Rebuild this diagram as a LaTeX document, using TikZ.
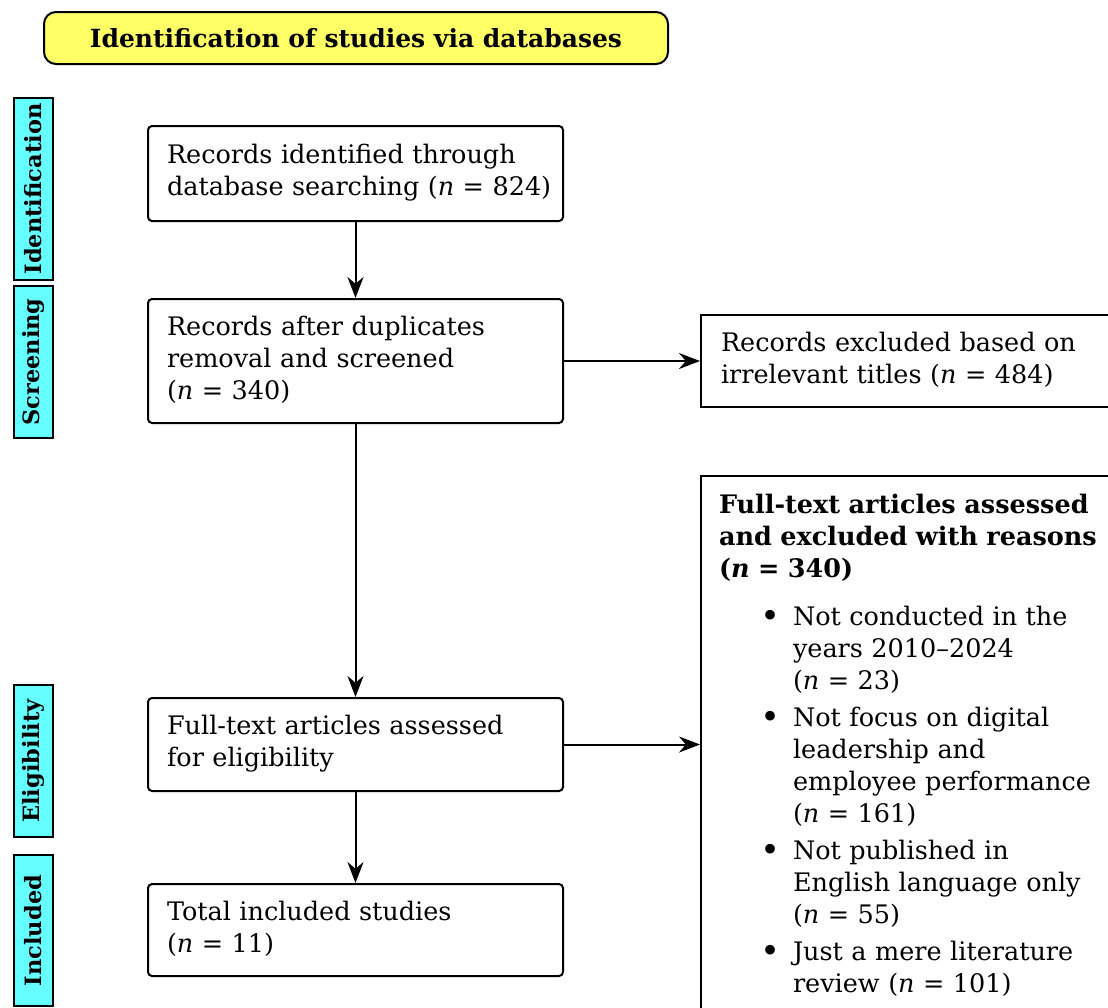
\documentclass[tikz,border=0pt]{standalone}
\usepackage{fontspec}
\setmainfont{DejaVu Serif}
\usetikzlibrary{arrows.meta}
\definecolor{titleyellow}{HTML}{FFFF66}
\definecolor{stagecyan}{HTML}{66FFFF}
\newcommand{\flowlines}[1]{\begin{tabular}{@{}l@{}}#1\end{tabular}}
\newcommand{\reasonbullet}{\raisebox{-0.09em}{\scalebox{1.3}{\textbullet}}}
\tikzset{
  every node/.style={font=\fontsize{25.5}{32}\selectfont},
  flowbox/.style={draw, line width=2pt, rounded corners=4pt, anchor=north west,
    align=left, inner xsep=19pt, inner ysep=0pt, text width=377pt,
    minimum width=415pt, minimum height=95pt},
  sidebox/.style={draw, line width=2pt, anchor=north west},
  stagebox/.style={draw, line width=2pt, fill=stagecyan, minimum width=39pt,
    anchor=north west, inner sep=0pt},
  stagelabel/.style={rotate=90, font=\fontsize{22.5}{26}\selectfont\bfseries},
  flowarrow/.style={line width=2pt, -{Stealth[length=21pt,width=16pt]}},
}
\newenvironment{reasonlist}{\begin{list}{\reasonbullet}{\setlength{\leftmargin}{74pt}\setlength{\labelsep}{13pt}\setlength{\labelwidth}{20pt}\setlength{\itemsep}{5pt}\setlength{\parsep}{0pt}\setlength{\topsep}{16pt}\setlength{\partopsep}{0pt}}}{\end{list}}
\begin{document}
\begin{tikzpicture}[x=1pt,y=-1pt]
\useasboundingbox (0,0) rectangle (1108,1007);
% title
\node[draw, line width=2pt, fill=titleyellow, rounded corners=12pt,
  minimum width=624pt, minimum height=52pt, anchor=north west,
  font=\fontsize{25}{30}\selectfont\bfseries] (title) at (43,11)
  {Identification of studies via databases};
% stage labels
\node[stagebox, minimum height=182pt] (sid) at (13,97) {};
\node[stagelabel] (lid) at (sid.center) {Identification};
\node[stagebox, minimum height=152pt] (sscr) at (13,285) {};
\node[stagelabel] (lscr) at (sscr.center) {Screening};
\node[stagebox, minimum height=152pt] (selig) at (13,684) {};
\node[stagelabel] (lelig) at (selig.center) {Eligibility};
\node[stagebox, minimum height=151pt] (sinc) at (13,854) {};
\node[stagelabel] (linc) at (sinc.center) {Included};
% main boxes
\node[flowbox] (b1) at (147,125) {\flowlines{Records identified through\\database searching (\textit{n} = 824)}};
\node[flowbox, minimum height=124pt] (b2) at (147,298) {\flowlines{Records after duplicates\\removal and screened\\(\textit{n} = 340)}};
\node[flowbox, minimum height=93pt] (b5) at (147,697) {\flowlines{Full-text articles assessed\\for eligibility}};
\node[flowbox, minimum height=92pt] (b6) at (147,883) {\flowlines{Total included studies\\(\textit{n} = 11)}};
% side boxes
\node[sidebox, minimum height=92pt, align=left,
  text width=420pt, inner xsep=20pt, inner ysep=0pt] (b3) at (700,314)
  {\flowlines{Records excluded based on\\irrelevant titles (\textit{n} = 484)}};
\node[sidebox, text width=420pt, inner xsep=18pt, inner ysep=0pt] (b4) at (700,475) {%
  \begin{minipage}[t]{420pt}
  \vspace{18pt}
  {\bfseries Full-text articles assessed\\and excluded with reasons\\(\textit{n} = 340)\par}
  \begin{reasonlist}
  \item Not conducted in the\\years 2010--2024\\(\textit{n} = 23)
  \item Not focus on digital\\leadership and\\employee performance\\(\textit{n} = 161)
  \item Not published in\\English language only\\(\textit{n} = 55)
  \item Just a mere literature\\review (\textit{n} = 101)
  \end{reasonlist}
  \vspace{40pt}
  \end{minipage}};
% connectors
\draw[flowarrow] (b1.south) -- (b2.north);
\draw[flowarrow] (b2.south) -- (b5.north);
\draw[flowarrow] (b5.south) -- (b6.north);
\draw[flowarrow] (b2.east) -- (b2.east -| b3.west);
\draw[flowarrow] (b5.east) -- (b5.east -| b4.west);
\end{tikzpicture}
\end{document}
